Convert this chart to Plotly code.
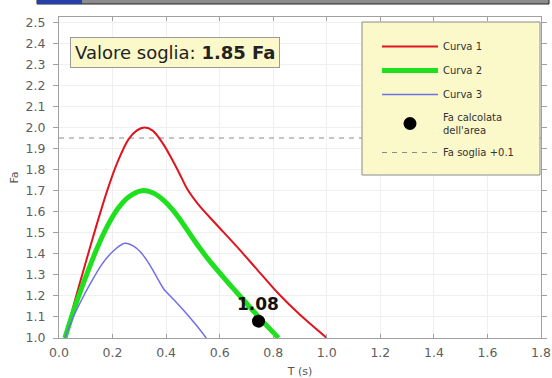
import plotly.graph_objects as go

# Curve samples: period T (s) vs amplification factor Fa
t_curva1 = [0.022, 0.06, 0.10, 0.14, 0.18, 0.22, 0.26, 0.29, 0.32, 0.35, 0.39, 0.43,
            0.46, 0.48, 0.52, 0.58, 0.66, 0.74, 0.82, 0.90, 1.0]
fa_curva1 = [1.0, 1.18, 1.36, 1.535, 1.70, 1.84, 1.945, 1.985, 2.0, 1.985, 1.92, 1.83,
             1.755, 1.705, 1.635, 1.55, 1.44, 1.325, 1.21, 1.11, 1.0]

t_curva2 = [0.022, 0.06, 0.10, 0.14, 0.18, 0.22, 0.26, 0.31, 0.35, 0.39, 0.43, 0.47,
            0.51, 0.56, 0.62, 0.70, 0.76, 0.82]
fa_curva2 = [1.0, 1.15, 1.29, 1.42, 1.53, 1.615, 1.67, 1.70, 1.69, 1.655, 1.60, 1.53,
             1.455, 1.37, 1.28, 1.165, 1.08, 1.0]

t_curva3 = [0.022, 0.05, 0.08, 0.12, 0.16, 0.20, 0.245, 0.28, 0.31, 0.34, 0.367, 0.39,
            0.43, 0.47, 0.51, 0.55]
fa_curva3 = [1.0, 1.09, 1.17, 1.265, 1.35, 1.41, 1.45, 1.435, 1.40, 1.345, 1.285, 1.235,
             1.18, 1.125, 1.065, 1.0]

t_calcolata = [0.745]
fa_calcolata = [1.08]

fa_soglia = 1.85
t_range = [0.0, 1.8]
x_ticks = [0.0, 0.2, 0.4, 0.6, 0.8, 1.0, 1.2, 1.4, 1.6, 1.8]
y_ticks = [1.0, 1.1, 1.2, 1.3, 1.4, 1.5, 1.6, 1.7, 1.8, 1.9, 2.0, 2.1, 2.2, 2.3, 2.4, 2.5]

FONT = "DejaVu Sans, Verdana, sans-serif"

# plot area in pixels: x 59..541, y 17..338
PX0, PX1, PY0, PY1 = 59, 541, 17, 338

def px(x):
    return (x - PX0) / float(PX1 - PX0)

def py(y):
    return (PY1 - y) / float(PY1 - PY0)

fig = go.Figure()

# threshold + 0.1 reference line (drawn first so it sits beneath the curves)
fig.add_trace(go.Scatter(
    x=t_range, y=[fa_soglia + 0.1, fa_soglia + 0.1], mode="lines",
    line=dict(color="#8a8a8a", width=1, dash="5px,5px"),
    name="Fa soglia +0.1", legendrank=5, legendgroup="e",
))
fig.add_trace(go.Scatter(
    x=t_curva1, y=fa_curva1, mode="lines",
    line=dict(color="#e0141e", width=2, shape="spline", smoothing=0.9),
    name="Curva 1", legendrank=1, legendgroup="a",
))
fig.add_trace(go.Scatter(
    x=t_curva2, y=fa_curva2, mode="lines",
    line=dict(color="#1fe01f", width=5, shape="spline", smoothing=0.9),
    name="Curva 2", legendrank=2, legendgroup="b",
))
fig.add_trace(go.Scatter(
    x=t_curva3, y=fa_curva3, mode="lines",
    line=dict(color="#7070e8", width=1.5, shape="spline", smoothing=0.9),
    name="Curva 3", legendrank=3, legendgroup="c",
))
fig.add_trace(go.Scatter(
    x=t_calcolata, y=fa_calcolata, mode="markers",
    marker=dict(color="black", size=13), name="Fa calcolata<br>dell'area",
    legendrank=4, legendgroup="d",
))

# value label above the computed point
fig.add_annotation(
    x=t_calcolata[0], y=fa_calcolata[0], text="<b>%.2f</b>" % fa_calcolata[0],
    showarrow=False, yanchor="bottom", yshift=5,
    font=dict(family=FONT, size=17, color="#111"),
)

# threshold value box
fig.add_annotation(
    xref="paper", yref="paper", x=px(70), y=py(37), xanchor="left", yanchor="top",
    text="Valore soglia: <b>%.2f Fa</b>" % fa_soglia, showarrow=False,
    font=dict(family=FONT, size=18, color="#222"),
    bgcolor="#fbf9c9", bordercolor="#9a9a9a", borderwidth=1, borderpad=4,
)

# legend panel background
fig.add_shape(type="rect", xref="paper", yref="paper",
              x0=px(362), x1=px(540), y0=py(175), y1=py(22),
              fillcolor="#fbf9c9", line=dict(color="#8a8a8a", width=1), layer="above")

# window title strip along the top edge
fig.add_shape(type="rect", xref="paper", yref="paper",
              x0=px(37), x1=px(549), y0=py(4), y1=py(-1),
              fillcolor="#8c8c8c", line=dict(color="#222", width=1), layer="above")
fig.add_shape(type="rect", xref="paper", yref="paper",
              x0=px(37), x1=px(82), y0=py(4), y1=py(-1),
              fillcolor="#2740a8", line=dict(width=0), layer="above")

axis_common = dict(
    showline=True, linecolor="#a0a0a0", linewidth=1, mirror="ticks",
    showgrid=True, gridcolor="#efefef", gridwidth=1, zeroline=False, automargin=False,
    tickfont=dict(family=FONT, size=12.5, color="#5e5e5e"), tickcolor="#a0a0a0",
    ticklabeloverflow="allow",
)

fig.update_xaxes(
    range=t_range, tickvals=x_ticks, tickformat=".1f", ticks="inside", ticklen=4,
    ticklabelstandoff=3,
    title=dict(text="T (s)", font=dict(family=FONT, size=11, color="#555"), standoff=16),
    **axis_common,
)
fig.update_yaxes(
    range=[1.0, 2.525], tickvals=y_ticks, tickformat=".1f", ticks="outside", ticklen=5,
    ticklabelstandoff=5,
    title=dict(text="Fa", font=dict(family=FONT, size=11, color="#555"), standoff=4),
    **axis_common,
)

fig.update_layout(
    width=552, height=378,
    margin=dict(l=PX0, r=552 - PX1, t=PY0, b=378 - PY1),
    paper_bgcolor="white", plot_bgcolor="white",
    font=dict(family=FONT, size=10, color="#333"),
    legend=dict(
        x=px(377), y=py(32), xanchor="left", yanchor="top",
        bgcolor="rgba(0,0,0,0)", borderwidth=0,
        font=dict(family=FONT, size=10, color="#333"),
        itemwidth=56, tracegroupgap=5, traceorder="grouped",
    ),
)

fig.write_html("out.html")
